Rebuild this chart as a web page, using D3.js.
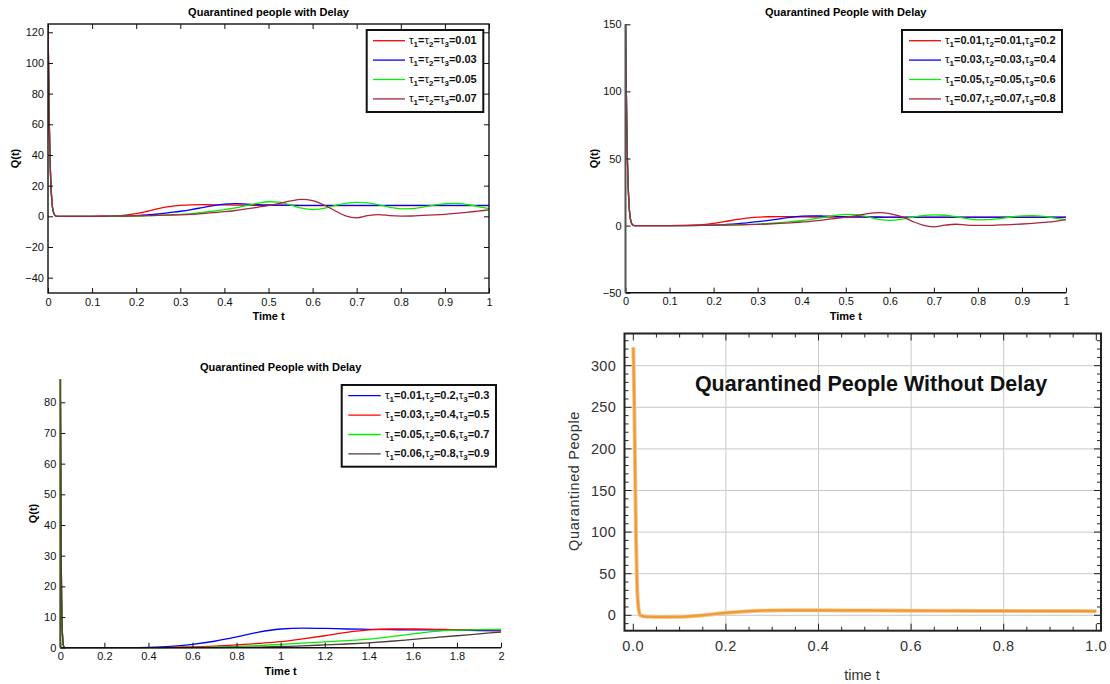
<!DOCTYPE html>
<html>
<head>
<meta charset="utf-8">
<script src="https://cdn.jsdelivr.net/npm/d3@7"></script>
<style>
  body { margin: 0; background: #fff; }
  svg { display: block; }
  text { font-family: "Liberation Sans", Arial, Helvetica, sans-serif; }
</style>
</head>
<body>
<svg id="chart" width="1110" height="684"></svg>
<script>
// ---------- data ----------
// panel A / B time grid (0 .. 1)
const timeAB = [0, 0.003, 0.006, 0.009, 0.012, 0.016, 0.02, 0.05, 0.075, 0.1, 0.125, 0.15, 0.175, 0.2,
  0.225, 0.25, 0.275, 0.3, 0.325, 0.35, 0.375, 0.4, 0.425, 0.45, 0.475, 0.5, 0.525, 0.55, 0.575, 0.6,
  0.625, 0.65, 0.675, 0.7, 0.725, 0.75, 0.775, 0.8, 0.825, 0.85, 0.875, 0.9, 0.925, 0.95, 0.975, 1.0];

// Quarantined people, equal delays
const qA1 = [125, 60, 25, 9, 3, 0.5, 0, 0, 0, 0, 0.1, 0.3, 0.8, 1.8, 3.3, 5.0, 6.3, 7.1, 7.5, 7.6, 7.5, 7.4, 7.3,
  7.2, 7.2, 7.1, 7.1, 7.1, 7.0, 7.0, 7.0, 7.0, 7.0, 7.0, 7.0, 7.0, 7.0, 7.0, 7.0, 7.0, 7.0, 7.0, 7.0, 7.0, 7.0, 7.0];
const qA2 = [125, 60, 25, 9, 3, 0.5, 0, 0, 0, 0, 0, 0.05, 0.2, 0.5, 0.9, 1.5, 2.4, 3.3, 4.4, 5.7, 7.0, 8.0, 8.3,
  8.0, 7.6, 7.4, 7.3, 7.2, 7.2, 7.1, 7.1, 7.1, 7.1, 7.1, 7.1, 7.1, 7.1, 7.1, 7.1, 7.1, 7.1, 7.1, 7.1, 7.1, 7.1, 7.1];
const qA3 = [125, 60, 25, 9, 3, 0.5, 0, 0, 0, 0, 0, 0.05, 0.1, 0.2, 0.4, 0.6, 0.9, 1.3, 1.8, 2.5, 3.3, 4.3, 5.5,
  7.0, 8.5, 9.5, 9.2, 7.4, 5.3, 4.4, 5.2, 7.0, 8.5, 9.1, 8.7, 7.5, 5.9, 4.9, 5.0, 6.0, 7.3, 8.2, 8.4, 7.7, 6.4, 5.0];
const qA4 = [125, 60, 25, 9, 3, 0.5, 0, 0, 0, 0, 0.05, 0.1, 0.15, 0.3, 0.45, 0.6, 0.8, 1.0, 1.3, 1.8, 2.4, 3.0, 3.8,
  4.8, 5.9, 7.0, 8.4, 10.0, 11.0, 10.2, 7.5, 3.8, 0.3, -1.0, 0.4, 1.1, 0.4, 0.1, 0.2, 0.6, 0.9, 1.3, 1.9, 2.6, 3.4, 4.2];

// Quarantined people, tau3 differing
const qB1 = [150, 72, 30, 11, 3.5, 0.6, 0, 0, 0, 0, 0.1, 0.3, 0.7, 1.6, 2.9, 4.4, 5.6, 6.3, 6.6, 6.7, 6.6, 6.5, 6.4,
  6.4, 6.3, 6.3, 6.3, 6.2, 6.2, 6.2, 6.2, 6.2, 6.2, 6.2, 6.2, 6.2, 6.2, 6.2, 6.2, 6.2, 6.2, 6.2, 6.2, 6.2, 6.2, 6.2];
const qB2 = [150, 72, 30, 11, 3.5, 0.6, 0, 0, 0, 0, 0, 0.05, 0.2, 0.4, 0.8, 1.3, 2.1, 2.9, 3.9, 5.0, 6.2, 7.0, 7.3,
  7.1, 6.8, 6.6, 6.5, 6.4, 6.4, 6.3, 6.3, 6.3, 6.3, 6.3, 6.3, 6.3, 6.3, 6.3, 6.3, 6.3, 6.3, 6.3, 6.3, 6.3, 6.3, 6.3];
const qB3 = [150, 72, 30, 11, 3.5, 0.6, 0, 0, 0, 0, 0, 0.05, 0.1, 0.2, 0.35, 0.5, 0.8, 1.1, 1.6, 2.2, 2.9, 3.8, 4.8,
  6.1, 7.5, 8.4, 8.1, 6.5, 4.7, 3.9, 4.6, 6.2, 7.5, 8.0, 7.7, 6.6, 5.2, 4.3, 4.4, 5.3, 6.4, 7.2, 7.4, 6.8, 5.6, 4.4];
const qB4 = [150, 72, 30, 11, 3.5, 0.6, 0, 0, 0, 0, 0.05, 0.1, 0.15, 0.25, 0.4, 0.55, 0.7, 0.9, 1.2, 1.6, 2.1, 2.7,
  3.4, 4.3, 5.3, 6.3, 7.5, 8.9, 9.7, 9.0, 6.8, 3.4, 0.3, -0.9, 0.3, 1.0, 0.4, 0.1, 0.2, 0.5, 0.8, 1.2, 1.7, 2.4, 3.2, 4.5];

// panel C time grid (0 .. 2)
const timeC = [0, 0.003, 0.006, 0.01, 0.015, 0.02, 0.1, 0.2, 0.3, 0.4, 0.5, 0.6, 0.7, 0.8, 0.9, 1.0,
  1.1, 1.2, 1.3, 1.4, 1.5, 1.6, 1.7, 1.8, 1.9, 2.0];
const qC1 = [87.5, 40, 15, 4, 0.5, 0, 0, 0, 0, 0.1, 0.4, 1.1, 2.1, 3.5, 5.1, 6.1, 6.4, 6.3, 6.1, 6.0, 5.9, 5.8, 5.8, 5.7, 5.6, 5.5];
const qC2 = [87.5, 40, 15, 4, 0.5, 0, 0, 0, 0, 0, 0.1, 0.3, 0.5, 0.9, 1.4, 2.0, 2.9, 3.9, 5.0, 5.8, 6.1, 6.1, 6.0, 5.9, 5.9, 5.8];
const qC3 = [87.5, 40, 15, 4, 0.5, 0, 0, 0, 0, 0, 0, 0.1, 0.2, 0.4, 0.7, 1.1, 1.5, 1.9, 2.3, 2.8, 3.6, 4.5, 5.3, 5.7, 5.9, 6.0];
const qC4 = [87.5, 40, 15, 4, 0.5, 0, 0, 0, 0, 0, 0, 0, 0.05, 0.1, 0.2, 0.4, 0.6, 0.9, 1.2, 1.6, 2.1, 2.7, 3.3, 3.9, 4.5, 5.1];

// panel D: no delay
const timeD = [0, 0.002, 0.004, 0.006, 0.008, 0.011, 0.015, 0.025, 0.05, 0.1, 0.15, 0.2, 0.25, 0.3, 0.4, 0.5, 0.6, 0.7, 0.8, 0.9, 1.0];
const qD = [322, 260, 170, 90, 40, 10, 0, -1.5, -2, -1.8, 0, 3, 5, 5.8, 6.0, 5.8, 5.5, 5.4, 5.2, 5.1, 5.0];

// legend entries (tau1, tau2, tau3)
const legendA = [["0.01"], ["0.03"], ["0.05"], ["0.07"]];
const legendB = [["0.01", "0.01", "0.2"], ["0.03", "0.03", "0.4"], ["0.05", "0.05", "0.6"], ["0.07", "0.07", "0.8"]];
const legendC = [["0.01", "0.2", "0.3"], ["0.03", "0.4", "0.5"], ["0.05", "0.6", "0.7"], ["0.06", "0.8", "0.9"]];

// ticks
const ticksX01 = [0, 0.1, 0.2, 0.3, 0.4, 0.5, 0.6, 0.7, 0.8, 0.9, 1];
const ticksYA = [-40, -20, 0, 20, 40, 60, 80, 100, 120];
const ticksYB = [-50, 0, 50, 100, 150];
const ticksX02 = [0, 0.2, 0.4, 0.6, 0.8, 1, 1.2, 1.4, 1.6, 1.8, 2];
const ticksYC = [0, 10, 20, 30, 40, 50, 60, 70, 80];
const ticksXD = [0, 0.2, 0.4, 0.6, 0.8, 1.0];
const ticksYD = [0, 50, 100, 150, 200, 250, 300];

// ---------- drawing ----------
const svg = d3.select("#chart");
const RED = "#ff0000", BLUE = "#0000ff", GREEN = "#00f000", CRIMSON = "#a8263f", BROWN = "#4d3b3b";
const minusFmt = d => (d < 0 ? "\u2212" + Math.abs(d) : String(d));

function legendTspans(text, vals) {
  const parts = [];
  const tau = (k) => { parts.push({ s: "\u03c4", tau: true }); parts.push({ s: String(k), sub: true }); };
  if (vals.length === 1) {
    tau(1); parts.push({ s: "=" }); tau(2); parts.push({ s: "=" }); tau(3); parts.push({ s: "=" + vals[0] });
  } else {
    tau(1); parts.push({ s: "=" + vals[0] + "," }); tau(2); parts.push({ s: "=" + vals[1] + "," });
    tau(3); parts.push({ s: "=" + vals[2] });
  }
  let lowered = false;
  parts.forEach(p => {
    const ts = text.append("tspan").text(p.s);
    if (p.tau) ts.attr("font-weight", "normal").attr("font-size", 11.5);
    if (p.sub) { ts.attr("font-size", 8).attr("dy", 3); lowered = true; }
    else if (lowered) { ts.attr("dy", -3); lowered = false; }
  });
}

function matlabPanel(cfg) {
  const g = svg.append("g");
  const x = d3.scaleLinear().domain(cfg.xDomain).range([cfg.left, cfg.right]);
  const y = d3.scaleLinear().domain(cfg.yDomain).range([cfg.bottom, cfg.top]);

  const clipId = "clip-" + cfg.id;
  g.append("clipPath").attr("id", clipId).append("rect")
    .attr("x", cfg.left).attr("y", cfg.top - 1)
    .attr("width", cfg.right - cfg.left).attr("height", cfg.bottom - cfg.top + 2);

  // curves
  cfg.series.forEach(s => {
    const line = d3.line().x((d, i) => x(cfg.time[i])).y(d => y(d)).curve(d3.curveMonotoneX);
    g.append("path").attr("d", line(s.values)).attr("fill", "none")
      .attr("stroke", s.color).attr("stroke-width", 1.3)
      .attr("clip-path", `url(#${clipId})`);
  });

  // axes (ticks point inwards)
  const xAxis = g.append("g").attr("transform", `translate(0,${cfg.bottom})`)
    .call(d3.axisBottom(x).tickValues(cfg.xTicks).tickSizeInner(-5).tickSizeOuter(0)
      .tickPadding(5).tickFormat(minusFmt));
  const yAxis = g.append("g").attr("transform", `translate(${cfg.left},0)`)
    .call(d3.axisLeft(y).tickValues(cfg.yTicks).tickSizeInner(-5).tickSizeOuter(0)
      .tickPadding(4).tickFormat(minusFmt));
  [xAxis, yAxis].forEach(a => {
    a.select(".domain").remove();
    a.selectAll("text").attr("font-size", 11).attr("fill", "#111")
      .attr("font-family", '"Liberation Sans", Arial, sans-serif');
    a.selectAll("line").attr("stroke", "#111");
  });

  if (cfg.box) {
    const xTop = g.append("g").attr("transform", `translate(0,${cfg.top})`)
      .call(d3.axisTop(x).tickValues(cfg.xTicks).tickSizeInner(-5).tickSizeOuter(0).tickFormat(""));
    const yRight = g.append("g").attr("transform", `translate(${cfg.right},0)`)
      .call(d3.axisRight(y).tickValues(cfg.yTicks).tickSizeInner(-5).tickSizeOuter(0).tickFormat(""));
    [xTop, yRight].forEach(a => { a.select(".domain").remove(); a.selectAll("line").attr("stroke", "#111"); });
    g.append("rect").attr("x", cfg.left).attr("y", cfg.top)
      .attr("width", cfg.right - cfg.left).attr("height", cfg.bottom - cfg.top)
      .attr("fill", "none").attr("stroke", "#111").attr("stroke-width", 1.4);
  } else {
    g.append("line").attr("x1", cfg.left).attr("x2", cfg.right).attr("y1", cfg.bottom).attr("y2", cfg.bottom)
      .attr("stroke", "#111").attr("stroke-width", 1.4);
    g.append("line").attr("x1", cfg.left).attr("x2", cfg.left).attr("y1", cfg.top).attr("y2", cfg.bottom)
      .attr("stroke", cfg.yAxisColor || "#111").attr("stroke-width", cfg.yAxisWidth || 1.4);
  }

  // titles
  const cx = (cfg.left + cfg.right) / 2;
  g.append("text").attr("x", cx).attr("y", cfg.titleY).attr("text-anchor", "middle")
    .attr("font-size", 11).attr("font-weight", "bold").text(cfg.title);
  g.append("text").attr("x", cx).attr("y", cfg.xLabelY).attr("text-anchor", "middle")
    .attr("font-size", 11).attr("font-weight", "bold").text("Time t");
  g.append("text").attr("transform", `translate(${cfg.yLabelX},${(cfg.top + cfg.bottom) / 2}) rotate(-90)`)
    .attr("text-anchor", "middle").attr("font-size", 11).attr("font-weight", "bold").text("Q(t)");

  // legend
  const L = cfg.legend;
  g.append("rect").attr("x", L.x).attr("y", L.y).attr("width", L.w).attr("height", L.h)
    .attr("fill", "#fff").attr("stroke", "#111").attr("stroke-width", 2);
  cfg.series.forEach((s, i) => {
    const ry = L.y + 10.7 + i * 19.4;
    g.append("line").attr("x1", L.x + L.lineX0).attr("x2", L.x + L.lineX1).attr("y1", ry).attr("y2", ry)
      .attr("stroke", s.color).attr("stroke-width", 1.3);
    const t = g.append("text").attr("x", L.x + L.textX).attr("y", ry + 3)
      .attr("font-size", 11).attr("font-weight", "bold").attr("fill", "#111");
    legendTspans(t, s.label);
  });
}

matlabPanel({
  id: "a", left: 48, right: 489, top: 24, bottom: 293,
  xDomain: [0, 1], yDomain: [-50, 125.4], xTicks: ticksX01, yTicks: ticksYA, box: true,
  time: timeAB, title: "Quarantined people with Delay", titleY: 16, xLabelY: 320, yLabelX: 19,
  series: [
    { values: qA1, color: RED, label: legendA[0] },
    { values: qA2, color: BLUE, label: legendA[1] },
    { values: qA3, color: GREEN, label: legendA[2] },
    { values: qA4, color: CRIMSON, label: legendA[3] }
  ],
  legend: { x: 366.7, y: 30, w: 116.6, h: 82, lineX0: 6.3, lineX1: 38.3, textX: 42.3 }
});

matlabPanel({
  id: "b", left: 625.5, right: 1066, top: 24.3, bottom: 292.7,
  xDomain: [0, 1], yDomain: [-50, 150], xTicks: ticksX01, yTicks: ticksYB, box: false,
  yAxisColor: "#555", yAxisWidth: 2,
  time: timeAB, title: "Quarantined People with Delay", titleY: 16, xLabelY: 320, yLabelX: 597.5,
  series: [
    { values: qB1, color: RED, label: legendB[0] },
    { values: qB2, color: BLUE, label: legendB[1] },
    { values: qB3, color: GREEN, label: legendB[2] },
    { values: qB4, color: CRIMSON, label: legendB[3] }
  ],
  legend: { x: 902, y: 30, w: 160, h: 82, lineX0: 7, lineX1: 39, textX: 43 }
});

matlabPanel({
  id: "c", left: 60.3, right: 501, top: 379.3, bottom: 647.7,
  xDomain: [0, 2], yDomain: [0, 87.5], xTicks: ticksX02, yTicks: ticksYC, box: false,
  yAxisColor: "#4a5220", yAxisWidth: 2,
  time: timeC, title: "Quarantined People with Delay", titleY: 371, xLabelY: 675, yLabelX: 37.3,
  series: [
    { values: qC1, color: BLUE, label: legendC[0] },
    { values: qC2, color: RED, label: legendC[1] },
    { values: qC3, color: GREEN, label: legendC[2] },
    { values: qC4, color: BROWN, label: legendC[3] }
  ],
  legend: { x: 341.7, y: 385, w: 154.3, h: 81.7, lineX0: 6.6, lineX1: 39, textX: 43.3 }
});

// ---------- panel D : framed plot with grid ----------
(function () {
  const g = svg.append("g");
  const fL = 624.5, fR = 1101, fT = 333.5, fB = 630.7;
  const x = d3.scaleLinear().domain([0, 1]).range([633.3, 1096.3]);
  const y = d3.scaleLinear().domain([0, 300]).range([615.3, 365.7]);

  // grid
  g.selectAll(".gx").data(ticksXD.filter(d => d > 0 && d < 1)).enter().append("line")
    .attr("x1", d => x(d)).attr("x2", d => x(d)).attr("y1", fT).attr("y2", fB)
    .attr("stroke", "#c9c9c9").attr("stroke-width", 1);
  g.selectAll(".gy").data(ticksYD).enter().append("line")
    .attr("x1", fL).attr("x2", fR).attr("y1", d => y(d)).attr("y2", d => y(d))
    .attr("stroke", "#c9c9c9").attr("stroke-width", 1);

  // curve
  const line = d3.line().x((d, i) => x(timeD[i])).y(d => y(d)).curve(d3.curveMonotoneX);
  g.append("path").attr("d", line(qD)).attr("fill", "none")
    .attr("stroke", "#f7c58a").attr("stroke-width", 4).attr("stroke-linejoin", "round");
  g.append("path").attr("d", line(qD)).attr("fill", "none")
    .attr("stroke", "#ef9a36").attr("stroke-width", 2.2).attr("stroke-linejoin", "round");

  // ticks on all four sides
  const minorX = d3.range(0, 1.0001, 0.05).filter(v => Math.abs(v * 5 - Math.round(v * 5)) > 1e-6);
  const minorY = d3.range(-10, 331, 10).filter(v => v % 50 !== 0);
  const tickStroke = "#222";
  ticksXD.forEach(v => {
    g.append("line").attr("x1", x(v)).attr("x2", x(v)).attr("y1", fB).attr("y2", fB - 7).attr("stroke", tickStroke);
    g.append("line").attr("x1", x(v)).attr("x2", x(v)).attr("y1", fT).attr("y2", fT + 7).attr("stroke", tickStroke);
  });
  minorX.forEach(v => {
    g.append("line").attr("x1", x(v)).attr("x2", x(v)).attr("y1", fB).attr("y2", fB - 4).attr("stroke", tickStroke);
    g.append("line").attr("x1", x(v)).attr("x2", x(v)).attr("y1", fT).attr("y2", fT + 4).attr("stroke", tickStroke);
  });
  ticksYD.forEach(v => {
    g.append("line").attr("x1", fL).attr("x2", fL + 7).attr("y1", y(v)).attr("y2", y(v)).attr("stroke", tickStroke);
    g.append("line").attr("x1", fR).attr("x2", fR - 7).attr("y1", y(v)).attr("y2", y(v)).attr("stroke", tickStroke);
  });
  minorY.forEach(v => {
    g.append("line").attr("x1", fL).attr("x2", fL + 4).attr("y1", y(v)).attr("y2", y(v)).attr("stroke", tickStroke);
    g.append("line").attr("x1", fR).attr("x2", fR - 4).attr("y1", y(v)).attr("y2", y(v)).attr("stroke", tickStroke);
  });

  g.append("rect").attr("x", fL).attr("y", fT).attr("width", fR - fL).attr("height", fB - fT)
    .attr("fill", "none").attr("stroke", "#222").attr("stroke-width", 2);

  // tick labels
  const fmtX = d3.format(".1f");
  g.selectAll(".lx").data(ticksXD).enter().append("text")
    .attr("x", d => x(d)).attr("y", 651).attr("text-anchor", "middle")
    .attr("font-size", 14.5).attr("fill", "#333").attr("letter-spacing", 0.6).text(fmtX);
  g.selectAll(".ly").data(ticksYD).enter().append("text")
    .attr("x", 616).attr("y", d => y(d) + 5).attr("text-anchor", "end")
    .attr("font-size", 14.5).attr("fill", "#333").attr("letter-spacing", 0.3).text(d => d);

  // labels
  g.append("text").attr("x", 871).attr("y", 391).attr("text-anchor", "middle")
    .attr("font-size", 21.5).attr("font-weight", "bold").attr("fill", "#111")
    .text("Quarantined People Without Delay");
  g.append("text").attr("transform", "translate(579,481) rotate(-90)").attr("text-anchor", "middle")
    .attr("font-size", 14.5).attr("fill", "#333").attr("letter-spacing", 0.6).text("Quarantined  People");
  g.append("text").attr("x", 862).attr("y", 680).attr("text-anchor", "middle")
    .attr("font-size", 14.5).attr("fill", "#333").text("time t");
})();
</script>
</body>
</html>
